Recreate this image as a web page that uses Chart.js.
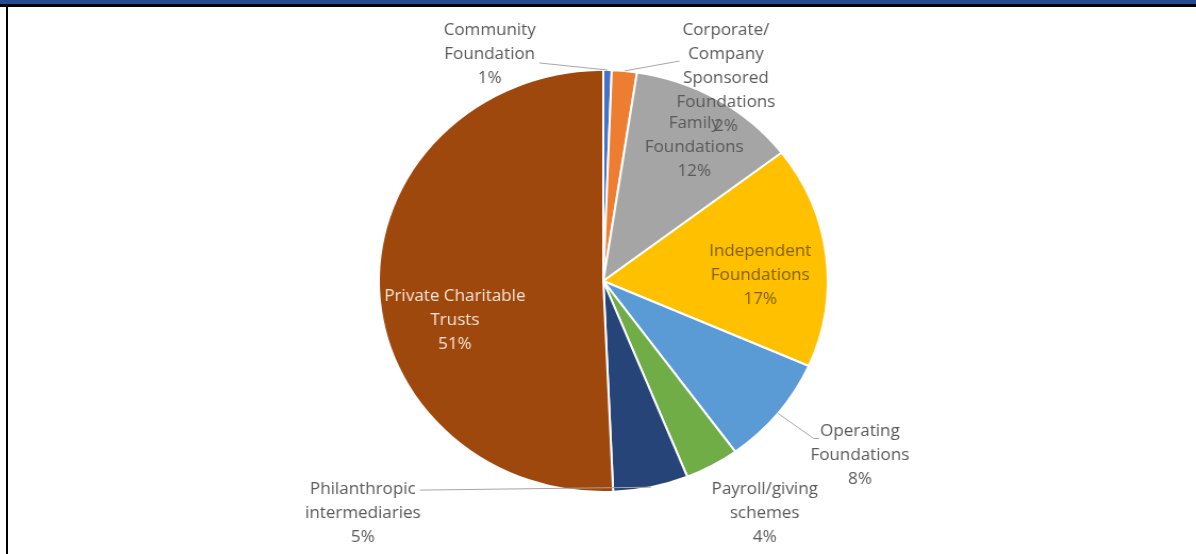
<!DOCTYPE html>
<html>
<head>
<meta charset="utf-8">
<script src="https://cdn.jsdelivr.net/npm/chart.js@4"></script>
<style>
html, body { margin: 0; padding: 0; background: #fff; overflow: hidden; }
#frame { position: relative; width: 1196px; height: 554px; background: #fff; }
#stretch { position: absolute; left: 0; top: 0; width: 1124px; height: 554px; transform: scaleX(1.064); transform-origin: 0 0; }
#topbar { position: absolute; left: 0; top: 0; width: 1196px; height: 4px; background: #244b91; }
#topline { position: absolute; left: 0; top: 4px; width: 1196px; height: 3px; background: #000; }
#leftline { position: absolute; left: 6px; top: 4px; width: 2px; height: 550px; background: #000; }
</style>
</head>
<body>
<div id="frame">
    <div id="stretch"><canvas id="pie" width="1124" height="554"></canvas></div>
    <div id="topbar"></div>
    <div id="topline"></div>
    <div id="leftline"></div>
</div>
<script>
// categorias y porcentajes
const categories = ['Community Foundation', 'Corporate/Company Sponsored Foundations', 'Family Foundations',
    'Independent Foundations', 'Operating Foundations', 'Payroll/giving schemes',
    'Philanthropic intermediaries', 'Private Charitable Trusts'];
const shares = [0.6, 1.8, 12.2, 17.0, 8.4, 3.9, 5.4, 50.7];
const labelLines = [
    ['Community', 'Foundation'],
    ['Corporate/', 'Company', 'Sponsored', 'Foundations'],
    ['Family', 'Foundations'],
    ['Independent', 'Foundations'],
    ['Operating', 'Foundations'],
    ['Payroll/giving', 'schemes'],
    ['Philanthropic', 'intermediaries'],
    ['Private Charitable', 'Trusts']
];
const sliceColors = ['#4472c4', '#ed7d31', '#a5a5a5', '#ffc000', '#5b9bd5', '#70ad47', '#264478', '#9e480e'];

// donde va cada etiqueta (en radios desde el centro) y su linea guia
const labelPlacement = [
    { dx: -0.506, dy: -1.076, color: '#595959', leader: { side: 'right', line: 1, gap: 4, dy: 9 } },
    { dx: 0.546, dy: -0.962, color: '#595959', leader: { side: 'left', line: 1, gap: 8, dy: 7 } },
    { dx: 0.405, dy: -0.635, color: '#595959' },
    { dx: 0.699, dy: -0.024, color: '#7f6000' },
    { dx: 1.143, dy: 0.827, color: '#595959', leader: { side: 'left', line: 0, gap: 1, dy: 7, elbow: 5 } },
    { dx: 0.719, dy: 1.10, color: '#595959' },
    { dx: -1.071, dy: 1.10, color: '#595959', leader: { side: 'right', line: 0, gap: 4, dy: 1 } },
    { dx: -0.661, dy: 0.185, color: '#fbe5d6' }
];

const pieLabels = {
    id: 'pieLabels',
    afterDatasetsDraw(chart) {
        const ctx = chart.ctx;
        const arcs = chart.getDatasetMeta(0).data;
        ctx.save();
        ctx.font = '16px "Open Sans"';
        ctx.textAlign = 'center';
        ctx.textBaseline = 'middle';
        arcs.forEach((arc, i) => {
            const { x, y, startAngle, endAngle, outerRadius } = arc.getProps(['x', 'y', 'startAngle', 'endAngle', 'outerRadius'], true);
            const p = labelPlacement[i];
            const lines = labelLines[i].concat([Math.round(shares[i]) + '%']);
            const lh = 24;
            const cx = x + p.dx * outerRadius;
            const cy = y + p.dy * outerRadius;
            const y0 = cy - (lines.length - 1) * lh / 2;

            if (p.leader) {
                const L = p.leader;
                const mid = (startAngle + endAngle) / 2;
                const rx = x + Math.cos(mid) * outerRadius;
                const ry = y + Math.sin(mid) * outerRadius;
                const w = ctx.measureText(lines[L.line]).width;
                const ax = L.side === 'right' ? cx + w / 2 + L.gap : cx - w / 2 - L.gap;
                const ay = y0 + L.line * lh + L.dy;
                ctx.strokeStyle = '#a6a6a6';
                ctx.lineWidth = 1;
                ctx.beginPath();
                ctx.moveTo(rx, ry);
                if (L.elbow) {
                    ctx.lineTo(ax - L.elbow, ay);
                }
                ctx.lineTo(ax, ay);
                ctx.stroke();
            }

            ctx.fillStyle = p.color;
            lines.forEach((t, k) => ctx.fillText(t, cx, y0 + k * lh));
        });
        ctx.restore();
    }
};

new Chart(document.getElementById('pie').getContext('2d'), {
    type: 'pie',
    data: {
        labels: categories,
        datasets: [{
            data: shares,
            backgroundColor: sliceColors,
            borderColor: '#ffffff',
            borderWidth: 2,
            radius: 211
        }]
    },
    options: {
        responsive: false,
        animation: false,
        layout: { padding: { left: 300, right: 290, top: 70, bottom: 62 } },
        plugins: {
            legend: { display: false },
            tooltip: { enabled: false }
        }
    },
    plugins: [pieLabels]
});
</script>
</body>
</html>
